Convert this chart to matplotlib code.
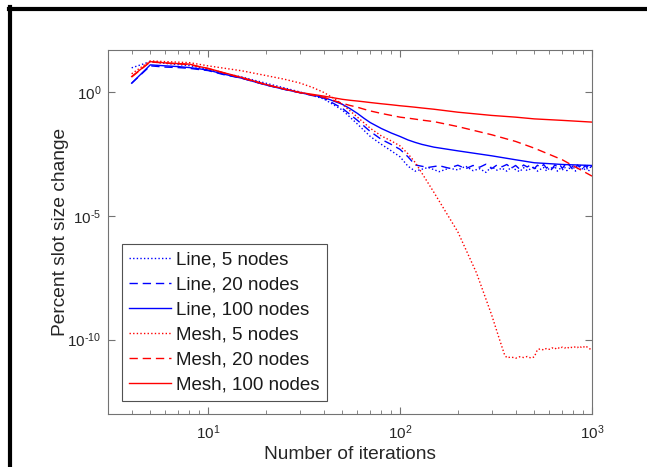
import numpy as np
import matplotlib
matplotlib.use("Agg")
import matplotlib.pyplot as plt
from matplotlib.lines import Line2D
from matplotlib.ticker import FixedLocator, FixedFormatter, LogLocator, NullLocator

plt.rcParams['font.family'] = ['Liberation Sans', 'DejaVu Sans']
plt.rcParams['mathtext.fontset'] = 'custom'
plt.rcParams['mathtext.rm'] = 'Liberation Sans'
plt.rcParams['mathtext.it'] = 'Liberation Sans'

x_main = [4, 5, 6, 7, 8, 9, 10, 12, 15, 20, 25, 30, 40, 50, 55, 60, 65, 70, 80, 90, 100, 110, 120, 130, 150, 200,
          300, 400, 500, 700, 1000]

# log10(percent slot size change)
mesh100_log = [0.62, 1.22, 1.17, 1.14, 1.12, 1.02, 0.95, 0.78, 0.58, 0.30, 0.12, -0.02, -0.17, -0.30, -0.34, -0.37,
               -0.40, -0.43, -0.48, -0.52, -0.56, -0.59, -0.62, -0.65, -0.70, -0.82, -0.95, -1.02, -1.09, -1.15,
               -1.22]
mesh20_log = [0.60, 1.21, 1.16, 1.13, 1.10, 1.01, 0.94, 0.77, 0.56, 0.29, 0.11, -0.03, -0.22, -0.46, -0.55, -0.62,
              -0.70, -0.77, -0.87, -0.95, -1.02, -1.06, -1.10, -1.14, -1.20, -1.40, -1.73, -2.00, -2.27, -2.74,
              -3.40]
line100_log = [0.35, 1.09, 1.05, 1.02, 0.98, 0.93, 0.88, 0.72, 0.55, 0.28, 0.10, -0.03, -0.22, -0.50, -0.68, -0.87,
               -1.07, -1.24, -1.48, -1.66, -1.80, -1.94, -2.04, -2.12, -2.23, -2.38, -2.58, -2.74, -2.86, -2.93,
               -2.97]

x_line20 = [4, 5, 6, 7, 8, 9, 10, 12, 15, 20, 25, 30, 40, 50, 60, 70, 80, 90, 100, 110]
line20_log = [0.35, 1.05, 1.00, 0.98, 0.95, 0.90, 0.86, 0.70, 0.55, 0.28, 0.10, -0.03, -0.25, -0.66, -1.15, -1.60,
              -1.92, -2.12, -2.32, -2.62]
x_line5 = [4, 5, 6, 7, 8, 9, 10, 12, 15, 20, 25, 30, 40, 50, 60, 70, 80, 90, 100, 110]
line5_log = [0.97, 1.22, 1.15, 1.10, 1.06, 0.98, 0.90, 0.76, 0.60, 0.35, 0.16, 0.00, -0.28, -0.73, -1.30, -1.80,
             -2.12, -2.38, -2.62, -3.00]

# noisy floor of the line topologies, every 20 iterations from 120 to 1000
x_floor = np.arange(120, 1001, 20)
line20_floor = [-2.95, -3.05, -2.98, -3.08, -2.96, -3.10, -2.97, -3.04, -2.92, -3.10, -2.95, -3.02, -2.93, -3.08,
                -2.97, -3.12, -2.95, -3.03, -2.94, -3.10, -2.96, -3.05, -2.93, -3.08, -2.97, -3.10, -2.95, -3.02,
                -2.94, -3.09, -2.96, -3.04, -2.93, -3.07, -2.97, -3.10, -2.95, -3.03, -2.94, -3.08, -2.97, -3.05,
                -2.94, -3.06, -2.98]
line5_floor = [-3.20, -3.05, -3.22, -3.08, -3.15, -3.00, -3.18, -3.10, -3.25, -3.02, -3.16, -3.08, -3.20, -3.04,
               -3.14, -3.22, -3.06, -3.18, -3.10, -3.02, -3.20, -3.12, -3.05, -3.19, -3.08, -3.15, -3.00, -3.20,
               -3.10, -3.16, -3.04, -3.18, -3.08, -3.14, -3.02, -3.20, -3.10, -3.06, -3.17, -3.05, -3.15, -3.09,
               -3.20, -3.04, -3.12]

x_mesh5 = [4, 5, 6, 8, 10, 15, 20, 25, 30, 35, 40, 45, 50, 60, 70, 80, 90, 100, 110, 120, 150, 200, 250, 300, 330,
           350]
mesh5_log = [0.73, 1.25, 1.22, 1.18, 1.05, 0.85, 0.66, 0.51, 0.36, 0.18, -0.02, -0.25, -0.50, -1.02, -1.47, -1.78,
             -1.98, -2.18, -2.50, -2.85, -4.05, -5.65, -7.30, -9.00, -10.00, -10.60]
# floor of mesh, 5 nodes, every 20 iterations from 360 to 1000
x_mesh5_floor = np.arange(360, 1001, 20)
mesh5_floor = [-10.73, -10.70, -10.75, -10.69, -10.72, -10.68, -10.74, -10.70, -10.40, -10.37, -10.42, -10.35,
               -10.39, -10.33, -10.38, -10.31, -10.36, -10.30, -10.34, -10.29, -10.35, -10.31, -10.33, -10.28,
               -10.32, -10.26, -10.31, -10.27, -10.33, -10.29, -10.35, -10.38, -10.42]

labels = ["Line, 5 nodes", "Line, 20 nodes", "Line, 100 nodes",
          "Mesh, 5 nodes", "Mesh, 20 nodes", "Mesh, 100 nodes"]

x_ticks = [10, 100, 1000]
x_ticklabels = [r"$10^{1}$", r"$10^{2}$", r"$10^{3}$"]
y_ticks = [1e-10, 1e-5, 1e0]
y_ticklabels = ["$10^{\u201010}$", "$10^{\u20105}$", r"$10^{0}$"]

dot = (1, 1.6)
dash = (6, 3.5)

fig = plt.figure(figsize=(6.47, 4.67), dpi=100)
ax = fig.add_axes([0.167, 0.1135, 0.748, 0.7805])

lw = 1.0
ax.plot(np.r_[x_line5, x_floor], 10 ** np.r_[line5_log, line5_floor], color="blue", lw=lw, dashes=dot, label=labels[0])
ax.plot(np.r_[x_line20, x_floor], 10 ** np.r_[line20_log, line20_floor], color="blue", lw=lw, dashes=dash, label=labels[1])
ax.plot(x_main, 10 ** np.array(line100_log), color="blue", lw=lw, label=labels[2])
ax.plot(np.r_[x_mesh5, x_mesh5_floor], 10 ** np.r_[mesh5_log, mesh5_floor], color="red", lw=lw, dashes=dot, label=labels[3])
ax.plot(x_main, 10 ** np.array(mesh20_log), color="red", lw=lw, dashes=dash, label=labels[4])
ax.plot(x_main, 10 ** np.array(mesh100_log), color="red", lw=lw, label=labels[5])

ax.set_xscale("log")
ax.set_yscale("log")
ax.set_xlim(10 ** 0.479, 1000)
ax.set_ylim(1e-13, 10 ** 1.71)

ax.xaxis.set_major_locator(FixedLocator(x_ticks))
ax.xaxis.set_major_formatter(FixedFormatter(x_ticklabels))
ax.xaxis.set_minor_locator(LogLocator(base=10, subs=np.arange(2, 10)))
ax.yaxis.set_major_locator(FixedLocator(y_ticks))
ax.yaxis.set_major_formatter(FixedFormatter(y_ticklabels))
ax.yaxis.set_minor_locator(NullLocator())

axc = "0.45"
for sp in ax.spines.values():
    sp.set_color(axc)
    sp.set_linewidth(0.8)
ax.tick_params(which="both", direction="in", top=True, right=True, color=axc, labelcolor="0.15",
               labelsize=11)
ax.tick_params(which="major", length=5, width=0.8)
ax.tick_params(which="minor", length=3, width=0.6)
ax.tick_params(axis="x", pad=7)
ax.tick_params(axis="y", pad=5)

ax.set_xlabel("Number of iterations", fontsize=13.8, color="0.15", labelpad=3)
ax.set_ylabel("Percent slot size change", fontsize=13.8, color="0.15", labelpad=-1.5)

leg = ax.legend(loc="lower left", bbox_to_anchor=(0.029, 0.036), fontsize=13.5, frameon=True, fancybox=False,
                handlelength=2.25, handletextpad=0.27, labelspacing=0.42, borderpad=0.38, borderaxespad=0)
leg.get_frame().set_edgecolor("0.15")
leg.get_frame().set_linewidth(0.8)
for t in leg.get_texts():
    t.set_color("0.1")

# black frame from the screenshot
fig.add_artist(Line2D([9.3 / 647, 1], [1 - 9.2 / 467, 1 - 9.2 / 467], color="black", lw=3, transform=fig.transFigure))
fig.add_artist(Line2D([9.5 / 647, 9.5 / 647], [0, 1 - 7.3 / 467], color="black", lw=3, transform=fig.transFigure))

fig.savefig("out.png", dpi=100)
